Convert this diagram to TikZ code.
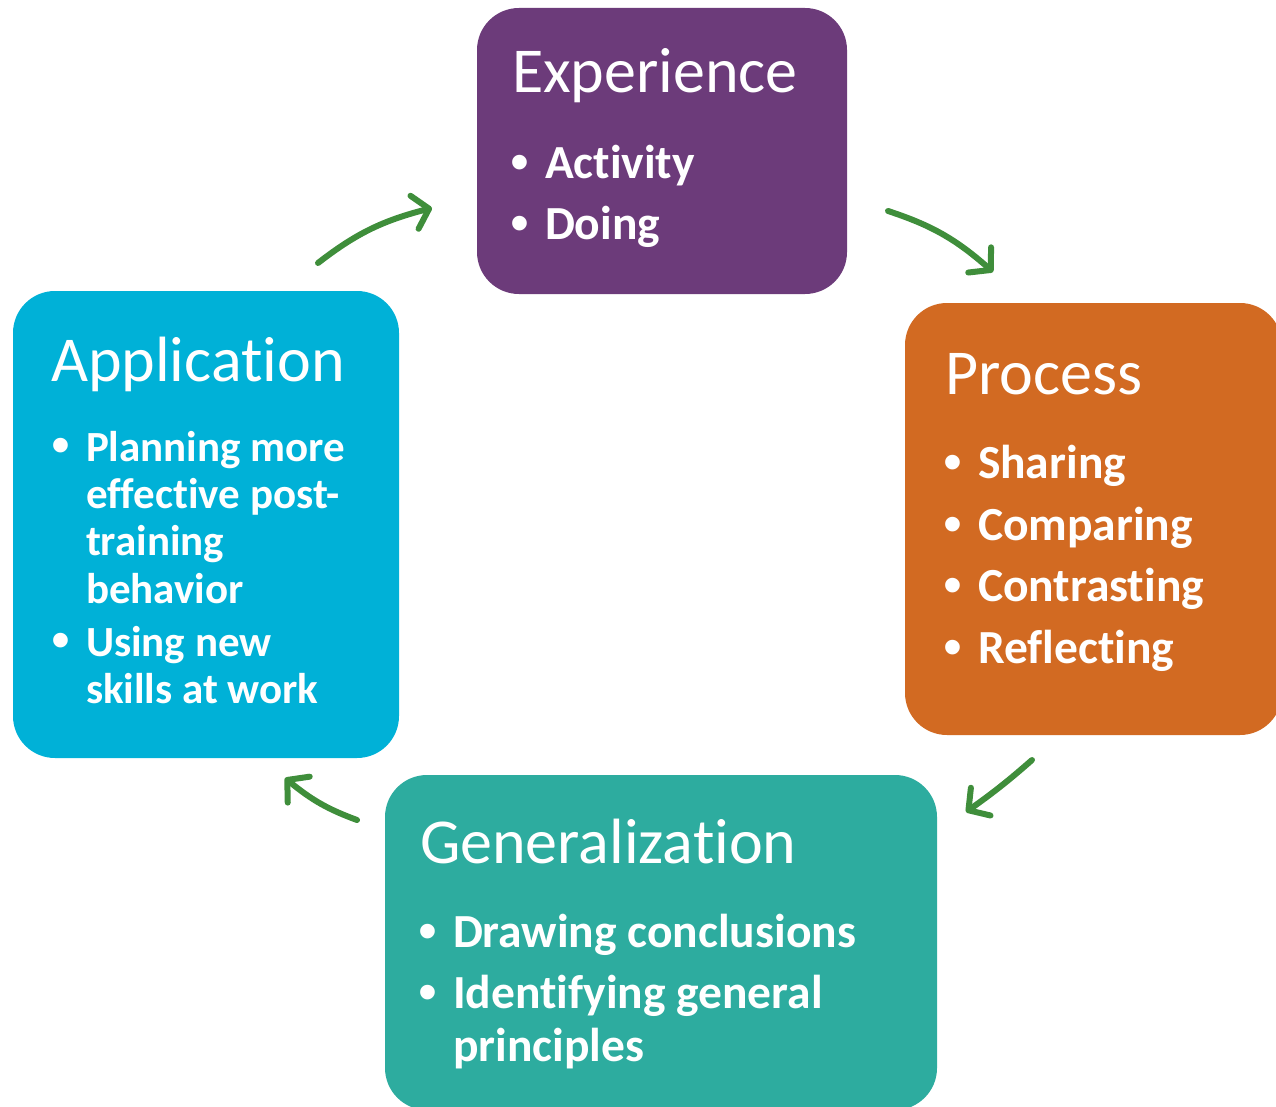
\documentclass[tikz,border=0pt]{standalone}
\usepackage{fontspec}
\setmainfont{Carlito}[Ligatures=NoCommon]
\newfontfamily\bulletfont{Liberation Sans}
\usetikzlibrary{arrows.meta,bending}

\definecolor{expcolor}{RGB}{108,59,122}
\definecolor{proccolor}{RGB}{210,106,34}
\definecolor{gencolor}{RGB}{45,172,159}
\definecolor{appcolor}{RGB}{0,177,215}
\definecolor{flowcolor}{RGB}{63,142,59}

\begin{document}
\begin{tikzpicture}[y=-1pt, x=1pt, inner sep=0pt, outer sep=0pt,
  stage/.style={rectangle, rounded corners=42pt},
  title/.style={anchor=base west, text=white, font=\fontsize{64}{72}\selectfont},
  item/.style={anchor=base west, text=white, font=\bfseries\fontsize{47.5}{56}\selectfont},
  smallitem/.style={item, font=\bfseries\fontsize{43}{47}\selectfont},
  dot/.style={anchor=base, text=white, yshift=-2pt, font=\bulletfont\fontsize{54}{56}\selectfont},
  flow/.style={draw=flowcolor, line width=6pt, line cap=round,
    -{Straight Barb[length=15pt,width=34pt,line cap=round,line join=round]}}]
\useasboundingbox (0,0) rectangle (1276,1107);
\clip (0,0) rectangle (1276,1107);

% the four stages
\node[stage, fill=expcolor, minimum width=370pt, minimum height=286pt] (exp) at (662,151) {};
\node[stage, fill=proccolor, minimum width=377pt, minimum height=432pt] (proc) at (1093.5,519) {};
\node[stage, fill=gencolor, minimum width=552pt, minimum height=335pt] (gen) at (661,942.5) {};
\node[stage, fill=appcolor, minimum width=386pt, minimum height=467pt] (app) at (206,524.5) {};

% Experience
\node[title] (exptitle) at ([shift={(35,85)}]exp.north west) {Experience};
\node[dot] (expdota) at ([shift={(43,171)}]exp.north west) {•};
\node[item] (expa) at ([shift={(68,171)}]exp.north west) {Activity};
\node[dot] (expdotb) at ([shift={(43,232)}]exp.north west) {•};
\node[item] (expb) at ([shift={(68,232)}]exp.north west) {Doing};

% Process
\node[title] (proctitle) at ([shift={(40,91)}]proc.north west) {Process};
\node[dot] (procdota) at ([shift={(48,175)}]proc.north west) {•};
\node[item] (proca) at ([shift={(73,175)}]proc.north west) {Sharing};
\node[dot] (procdotb) at ([shift={(48,237)}]proc.north west) {•};
\node[item] (procb) at ([shift={(73,237)}]proc.north west) {Comparing};
\node[dot] (procdotc) at ([shift={(48,298)}]proc.north west) {•};
\node[item] (procc) at ([shift={(73,298)}]proc.north west) {Contrasting};
\node[dot] (procdotd) at ([shift={(48,360)}]proc.north west) {•};
\node[item] (procd) at ([shift={(73,360)}]proc.north west) {Reflecting};

% Generalization
\node[title] (gentitle) at ([shift={(35,88)}]gen.north west) {Generalization};
\node[dot] (gendota) at ([shift={(43,172)}]gen.north west) {•};
\node[item] (gena) at ([shift={(68,172)}]gen.north west) {Drawing conclusions};
\node[dot] (gendotb) at ([shift={(43,233)}]gen.north west) {•};
\node[item] (genb) at ([shift={(68,233)}]gen.north west) {Identifying general};
\node[item] (genbb) at ([shift={(68,286)}]gen.north west) {principles};

% Application
\node[title] (apptitle) at ([shift={(38,90)}]app.north west) {Application};
\node[dot] (appdota) at ([shift={(48,170)}]app.north west) {•};
\node[smallitem] (appa) at ([shift={(73,170)}]app.north west) {Planning more};
\node[smallitem] (appab) at ([shift={(73,217)}]app.north west) {effective post-};
\node[smallitem] (appac) at ([shift={(73,264)}]app.north west) {training};
\node[smallitem] (appad) at ([shift={(73,312)}]app.north west) {behavior};
\node[dot] (appdotb) at ([shift={(48,365)}]app.north west) {•};
\node[smallitem] (appb) at ([shift={(73,365)}]app.north west) {Using new};
\node[smallitem] (appbb) at ([shift={(73,412)}]app.north west) {skills at work};

% arrows between the stages
\coordinate (flowas) at (318,263);
\coordinate (flowae) at (432,208);
\coordinate (flowbs) at (888,211);
\coordinate (flowbe) at (993,272);
\coordinate (flowcs) at (1032,760);
\coordinate (flowce) at (966,812);
\coordinate (flowds) at (357,820);
\coordinate (flowde) at (285,778);
\draw[flow] (flowas) to[bend left=12] (flowae);
\draw[flow] (flowbs) to[bend left=12] (flowbe);
\draw[flow] (flowcs) to[bend left=3] (flowce);
\draw[flow] (flowds) to[bend left=10] (flowde);

\end{tikzpicture}
\end{document}
